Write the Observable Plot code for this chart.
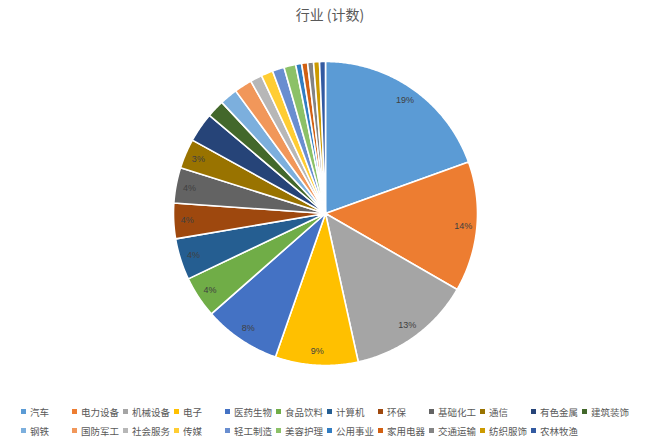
<!DOCTYPE html>
<html>
<head>
<meta charset="utf-8">
<script src="https://cdn.jsdelivr.net/npm/d3@7"></script>
<script src="https://cdn.jsdelivr.net/npm/@observablehq/plot@0.6"></script>
<style>
  html, body { margin: 0; padding: 0; background: #fff; }
  #wrap { position: relative; width: 660px; height: 443px; overflow: hidden; font-family: "Noto Sans CJK SC", "Noto Sans", sans-serif; }
  #title { position: absolute; left: 0; top: 4px; width: 660px; text-align: center; font-size: 14px; color: #595959; line-height: 20px; }
  #chart { position: absolute; left: 0; top: 28px; }
  #legend { position: absolute; left: 21px; top: 402px; display: grid; grid-template-columns: repeat(12, 51px); grid-auto-rows: 19px; font-size: 9.5px; color: #595959; }
  .item { display: flex; align-items: center; white-space: nowrap; }
  .sw { width: 5px; height: 5px; margin-right: 4px; flex: none; }
</style>
</head>
<body>
<div id="wrap">
  <div id="title">行业 (计数)</div>
  <div id="chart"></div>
  <div id="legend"></div>
</div>
<script>
const industries = ["汽车","电力设备","机械设备","电子","医药生物","食品饮料","计算机","环保","基础化工","通信","有色金属","建筑装饰","钢铁","国防军工","社会服务","传媒","轻工制造","美容护理","公用事业","家用电器","交通运输","纺织服饰","农林牧渔"];
const counts = [31,22,21,14,13,7,7,6,6,5,5,3,3,3,2,2,2,2,1,1,1,1,1];
const colors = ["#5B9BD5","#ED7D31","#A5A5A5","#FFC000","#4472C4","#70AD47","#255E91","#9E480E","#636363","#997300","#264478","#43682B","#7CAFDD","#F1975A","#B7B7B7","#FFCD33","#698ED0","#8CC168","#327DC2","#D26012","#848484","#CC9A00","#335AA1"];
const labeledCount = 10;

const total = d3.sum(counts);
const arcs = d3.pie().sort(null).value(d => d.count)(industries.map((name, i) => ({name, count: counts[i], i})));

// polygon vertices for each slice (unit circle, clockwise from 12 o'clock)
const poly = [];
for (const a of arcs) {
  const n = Math.max(2, Math.ceil((a.endAngle - a.startAngle) / (Math.PI / 360)));
  poly.push({name: a.data.name, x: 0, y: 0});
  for (let k = 0; k <= n; k++) {
    const t = a.startAngle + (a.endAngle - a.startAngle) * k / n;
    poly.push({name: a.data.name, x: Math.sin(t), y: Math.cos(t)});
  }
  poly.push({name: a.data.name, x: 0, y: 0});
}
const labels = arcs.filter(a => a.data.i < labeledCount).map(a => {
  const m = (a.startAngle + a.endAngle) / 2;
  return {x: 0.91 * Math.sin(m), y: 0.91 * Math.cos(m), text: Math.round(a.data.count / total * 100) + "%"};
});

const R = 152, cx = 325, cy = 185;
const chart = Plot.plot({
  width: 660,
  height: 370,
  margin: 0,
  x: {domain: [-1, 1], range: [cx - R, cx + R], axis: null},
  y: {domain: [-1, 1], range: [cy + R, cy - R], axis: null},
  color: {domain: industries, range: colors},
  marks: [
    Plot.line(poly, {x: "x", y: "y", z: "name", fill: "name", stroke: "#fff", strokeWidth: 1.6, strokeLinejoin: "round", curve: "linear"}),
    Plot.text(labels, {x: "x", y: "y", text: "text", fill: "#404040", fontSize: 9, fontFamily: "Liberation Sans, Arial, sans-serif"})
  ]
});
document.getElementById("chart").appendChild(chart);

const legend = document.getElementById("legend");
industries.forEach((name, i) => {
  const it = document.createElement("div");
  it.className = "item";
  const sw = document.createElement("span");
  sw.className = "sw";
  sw.style.background = colors[i];
  const tx = document.createElement("span");
  tx.textContent = name;
  it.appendChild(sw);
  it.appendChild(tx);
  legend.appendChild(it);
});
</script>
</body>
</html>
